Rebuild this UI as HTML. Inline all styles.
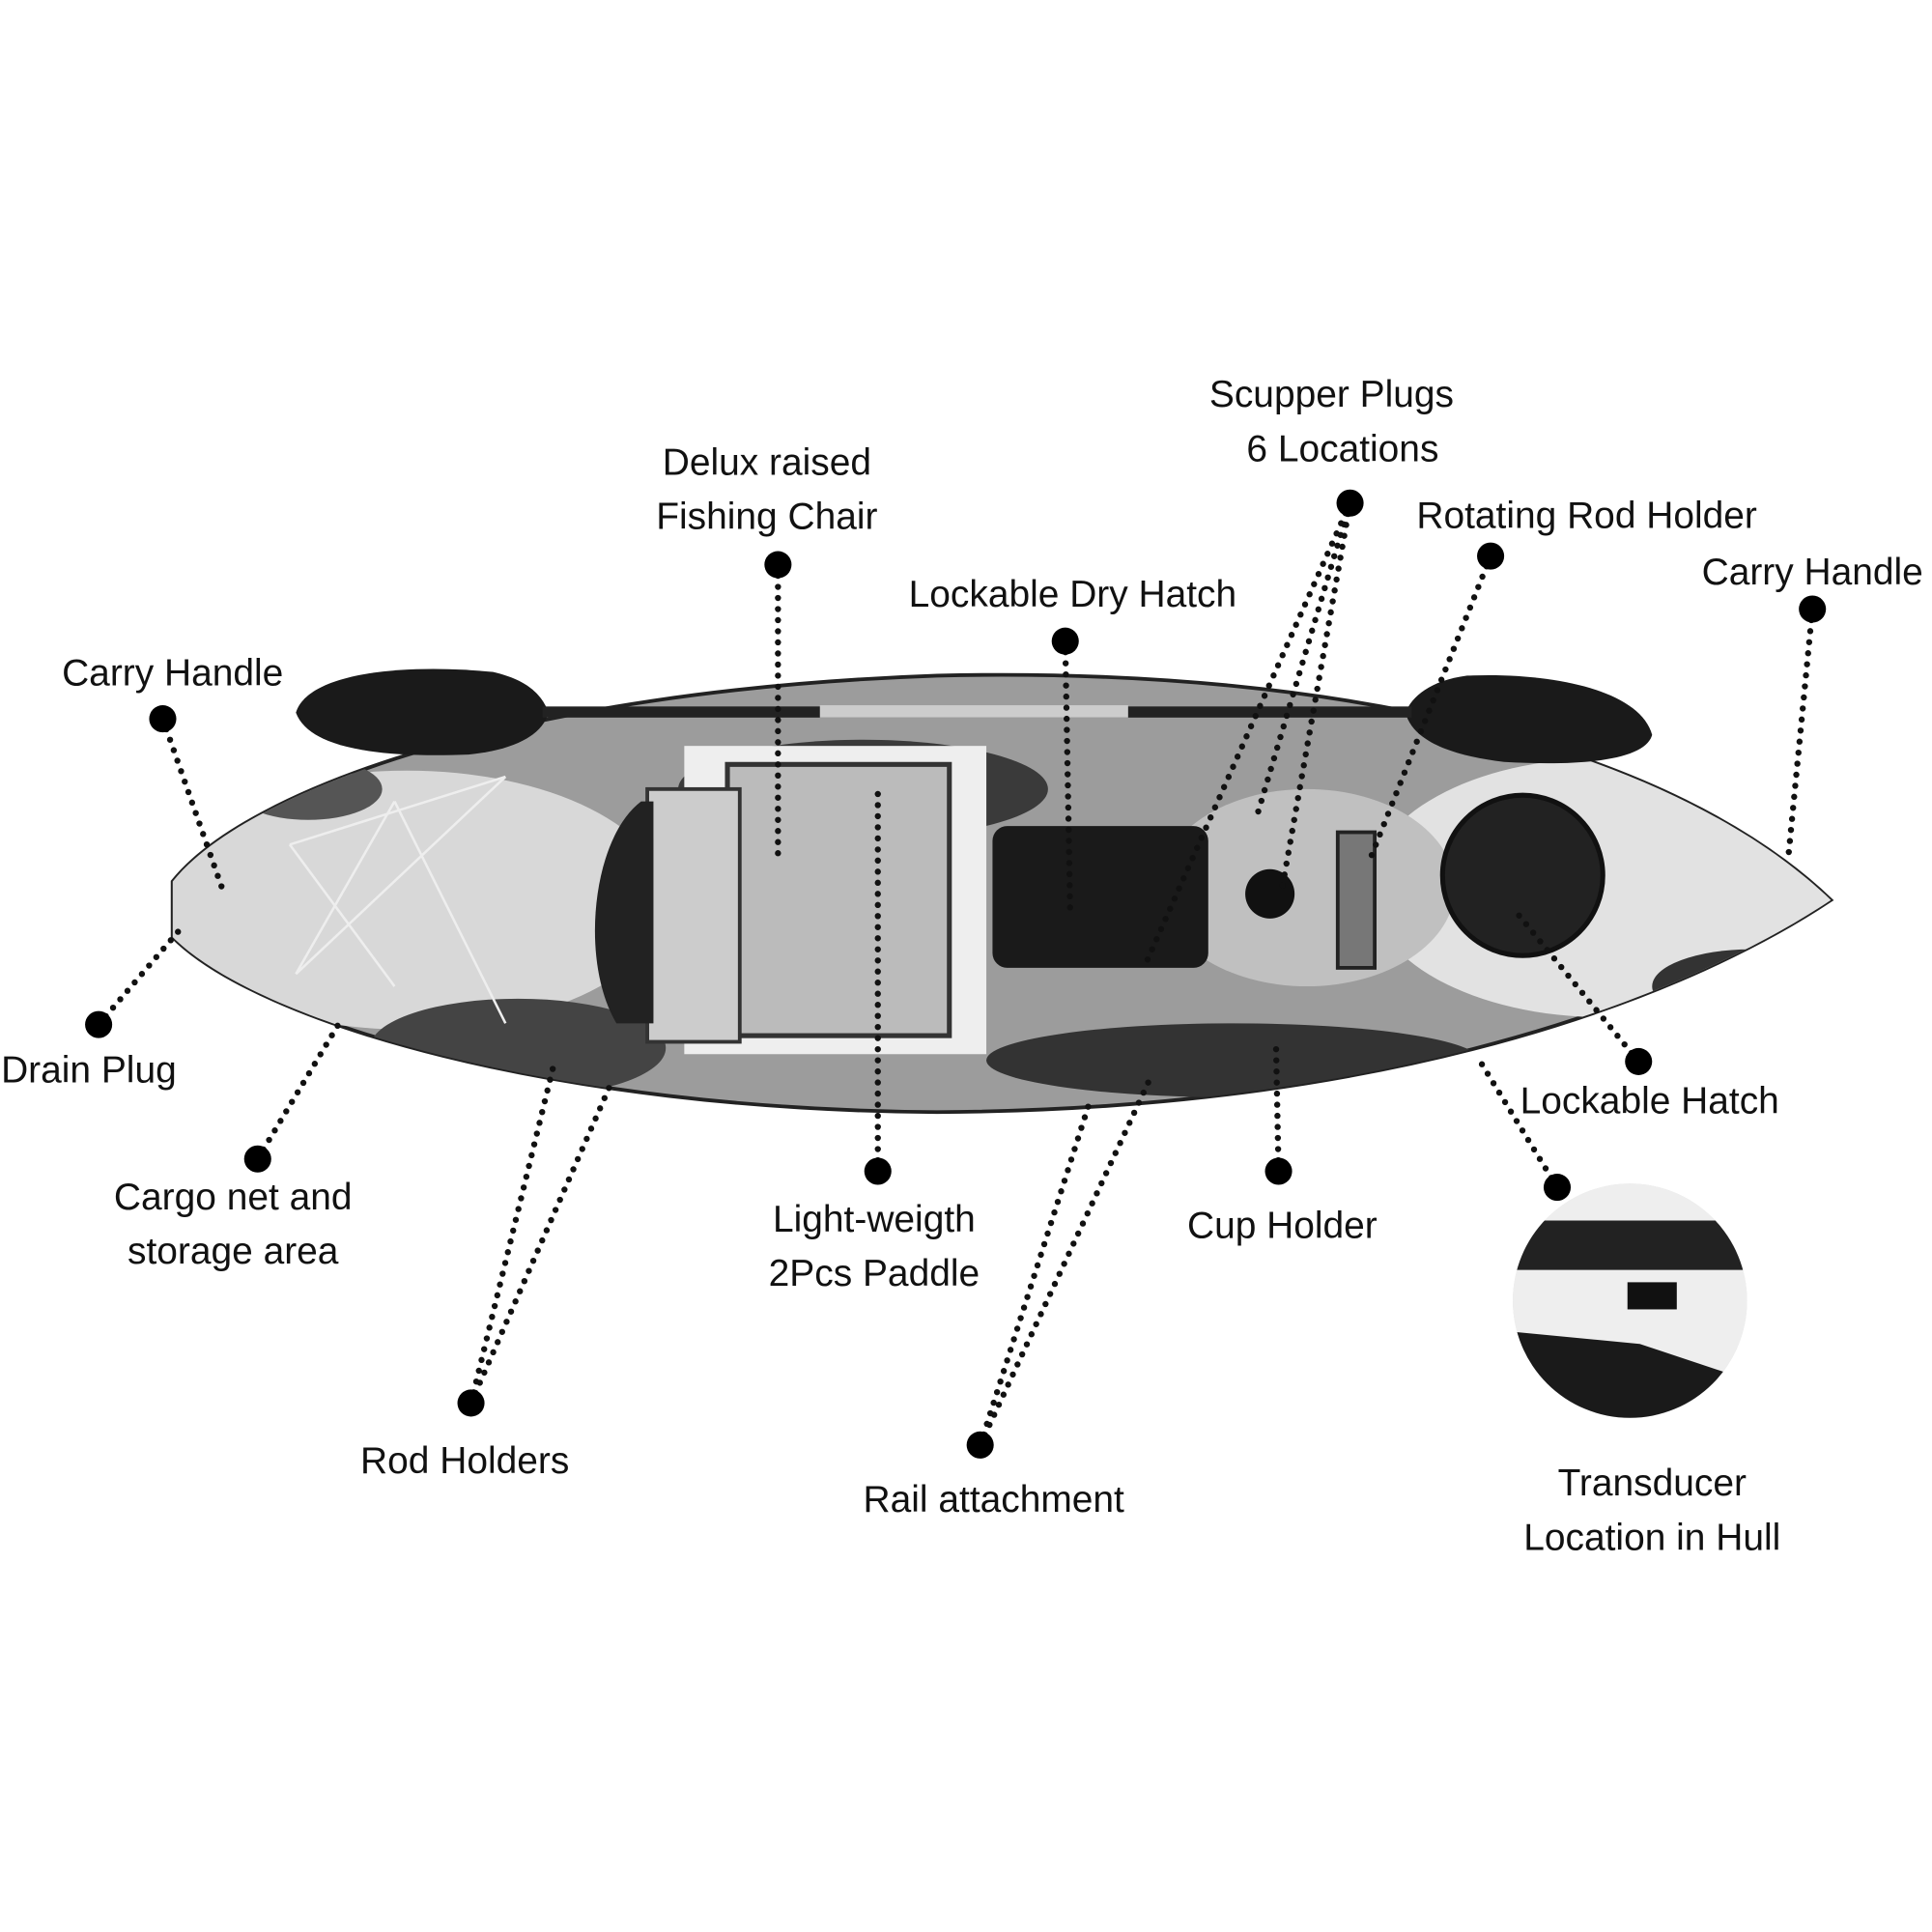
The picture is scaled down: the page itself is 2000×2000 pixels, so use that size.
<!DOCTYPE html>
<html><head><meta charset="utf-8"><style>html,body{margin:0;padding:0;background:#fff}svg{display:block}</style></head>
<body>
<svg width="2000" height="2000" viewBox="0 0 1567 1567" xmlns="http://www.w3.org/2000/svg">
<rect width="1567" height="1567" fill="#fff"/>
<defs>
<clipPath id="hull"><path d="M140,715 C200,640 420,560 760,548 C1100,540 1360,610 1485,730 C1380,800 1150,900 760,902 C450,900 210,830 140,760 Z"/></clipPath>
<clipPath id="tc"><circle cx="1322" cy="1055" r="95"/></clipPath>
</defs>
<path d="M140,715 C200,640 420,560 760,548 C1100,540 1360,610 1485,730 C1380,800 1150,900 760,902 C450,900 210,830 140,760 Z" fill="#9c9c9c" stroke="#222" stroke-width="3"/>
<g clip-path="url(#hull)">
<ellipse cx="330" cy="730" rx="210" ry="105" fill="#d8d8d8"/>
<ellipse cx="1300" cy="720" rx="190" ry="105" fill="#e2e2e2"/>
<ellipse cx="1060" cy="720" rx="120" ry="80" fill="#c0c0c0"/>
<ellipse cx="700" cy="640" rx="150" ry="40" fill="#3a3a3a"/>
<ellipse cx="1000" cy="860" rx="200" ry="30" fill="#333"/>
<ellipse cx="420" cy="850" rx="120" ry="40" fill="#444"/>
<ellipse cx="1420" cy="800" rx="80" ry="30" fill="#333"/>
<ellipse cx="250" cy="640" rx="60" ry="25" fill="#555"/>
<rect x="555" y="605" width="245" height="250" fill="#eee"/>
<rect x="590" y="620" width="180" height="220" fill="#bbb" stroke="#333" stroke-width="4"/>
<rect x="525" y="640" width="75" height="205" fill="#ccc" stroke="#333" stroke-width="3"/>
<path d="M520,650 C480,680 470,780 500,830 L530,830 L530,650 Z" fill="#222"/>
<rect x="805" y="670" width="175" height="115" rx="12" fill="#1a1a1a"/>
<circle cx="1235" cy="710" r="65" fill="#222" stroke="#111" stroke-width="4"/>
<circle cx="1030" cy="725" r="20" fill="#111"/>
<rect x="1085" y="675" width="30" height="110" fill="#777" stroke="#222" stroke-width="3"/>
<g stroke="#eee" stroke-width="2" fill="none"><path d="M235,685 L320,800 M235,685 L410,630 M320,650 L410,830 M240,790 L410,630 M240,790 L320,650"/></g>
</g>
<path d="M240,578 C250,545 330,538 400,545 C430,552 440,565 445,578 C440,595 420,608 380,612 C300,615 250,605 240,578 Z" fill="#1a1a1a"/>
<path d="M1340,596 C1330,560 1260,545 1190,548 C1160,552 1145,565 1140,578 C1145,598 1170,612 1220,618 C1290,622 1335,615 1340,596 Z" fill="#1a1a1a"/>
<rect x="440" y="573" width="705" height="9" fill="#222"/>
<rect x="665" y="572" width="250" height="10" fill="#ccc"/>
<circle cx="1322" cy="1055" r="95" fill="#ddd"/>
<g clip-path="url(#tc)">
<rect x="1220" y="960" width="200" height="200" fill="#eee"/>
<path d="M1225,990 L1420,990 L1420,1030 L1225,1030 Z" fill="#222"/>
<path d="M1225,1080 L1330,1090 L1420,1120 L1420,1160 L1225,1160 Z" fill="#1a1a1a"/>
<rect x="1320" y="1040" width="40" height="22" fill="#111"/>
</g>
<g stroke="#111" stroke-width="5" stroke-linecap="round" stroke-dasharray="0 9" fill="none">
<path d="M631,458 L631,700"/>
<path d="M1095,408 L1020,660 M1095,408 L1040,720 M1095,408 L930,780"/>
<path d="M1209,451 L1110,700"/>
<path d="M1470,494 L1450,700"/>
<path d="M864,520 L868,740"/>
<path d="M132,583 L180,720"/>
<path d="M80,831 L145,755"/>
<path d="M209,940 L275,830"/>
<path d="M382,1138 L450,860 M382,1138 L495,880"/>
<path d="M712,950 L712,640"/>
<path d="M795,1172 L885,890 M795,1172 L935,870"/>
<path d="M1037,950 L1035,850"/>
<path d="M1329,861 L1230,740"/>
<path d="M1263,963 L1200,860"/>
</g>
<g fill="#000">
<circle cx="631" cy="458" r="11"/><circle cx="1095" cy="408" r="11"/><circle cx="1209" cy="451" r="11"/>
<circle cx="1470" cy="494" r="11"/><circle cx="864" cy="520" r="11"/><circle cx="132" cy="583" r="11"/>
<circle cx="80" cy="831" r="11"/><circle cx="209" cy="940" r="11"/><circle cx="382" cy="1138" r="11"/>
<circle cx="712" cy="950" r="11"/><circle cx="795" cy="1172" r="11"/><circle cx="1037" cy="950" r="11"/>
<circle cx="1329" cy="861" r="11"/><circle cx="1263" cy="963" r="11"/>
</g>
<g font-family="Liberation Sans, sans-serif" font-size="30.5" fill="#111" text-anchor="middle">
<text x="622" y="385">Delux raised</text><text x="622" y="429">Fishing Chair</text>
<text x="1080" y="330">Scupper Plugs</text><text x="1089" y="374">6 Locations</text>
<text x="1287" y="428">Rotating Rod Holder</text>
<text x="1470" y="474">Carry Handle</text>
<text x="870" y="492">Lockable Dry Hatch</text>
<text x="140" y="556">Carry Handle</text>
<text x="72" y="878">Drain Plug</text>
<text x="189" y="981">Cargo net and</text><text x="189" y="1025">storage area</text>
<text x="377" y="1195">Rod Holders</text>
<text x="709" y="999">Light-weigth</text><text x="709" y="1043">2Pcs Paddle</text>
<text x="806" y="1226">Rail attachment</text>
<text x="1040" y="1004">Cup Holder</text>
<text x="1338" y="903">Lockable Hatch</text>
<text x="1340" y="1213">Transducer</text><text x="1340" y="1257">Location in Hull</text>
</g>
</svg>
</body></html>
